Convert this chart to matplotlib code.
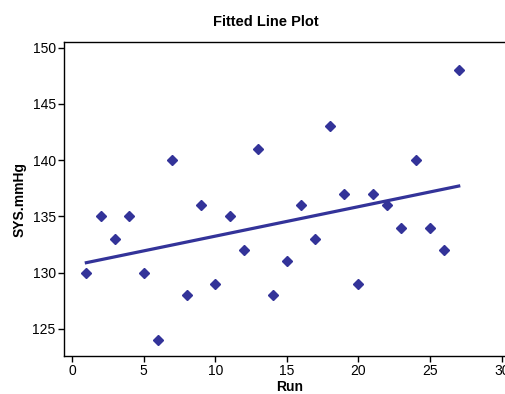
import numpy as np
import matplotlib
matplotlib.use("Agg")
import matplotlib.pyplot as plt
from matplotlib import font_manager

run = list(range(1, 28))
sys_mmhg = [130, 135, 133, 135, 130, 124, 140, 128, 136, 129, 135, 132, 141, 128,
            131, 136, 133, 143, 137, 129, 137, 136, 134, 140, 134, 132, 148]
xticks = [0, 5, 10, 15, 20, 25, 30]
yticks = [125, 130, 135, 140, 145, 150]

names = {f.name for f in font_manager.fontManager.ttflist}
fam = "Liberation Sans Narrow" if "Liberation Sans Narrow" in names else "Liberation Sans"
plt.rcParams['font.family'] = [fam, 'DejaVu Sans']

color = "#333399"
fig = plt.figure(figsize=(5.05, 3.94), dpi=100)
ax = fig.add_axes([64/505, 1-356/394, (516-64)/505, (356-42)/394])

x = np.array(run, float)
y = np.array(sys_mmhg, float)
b, a = np.polyfit(x, y, 1)
xl = np.linspace(x.min(), x.max(), 50)
ax.plot(xl, a + b*xl, color=color, lw=2.3, zorder=2)
ax.plot(x, y, linestyle='none', marker='D', ms=5.5, color=color, zorder=3)

ax.set_xlim(-0.56, 31.0)
ax.set_ylim(122.6, 150.5)
ax.set_xticks(xticks)
ax.set_yticks(yticks)
ax.tick_params(direction='out', length=4, width=1, labelsize=10, pad=2)
for s in ax.spines.values():
    s.set_linewidth(1)
ax.set_xlabel("Run", fontsize=10, fontweight='bold', labelpad=1)
ax.set_ylabel("SYS.mmHg", fontsize=10, fontweight='bold', labelpad=4)
fig.text(266/505, 1-22/394, "Fitted Line Plot", ha='center', va='center',
         fontsize=10.5, fontweight='bold')
fig.savefig("out.png", dpi=100)
